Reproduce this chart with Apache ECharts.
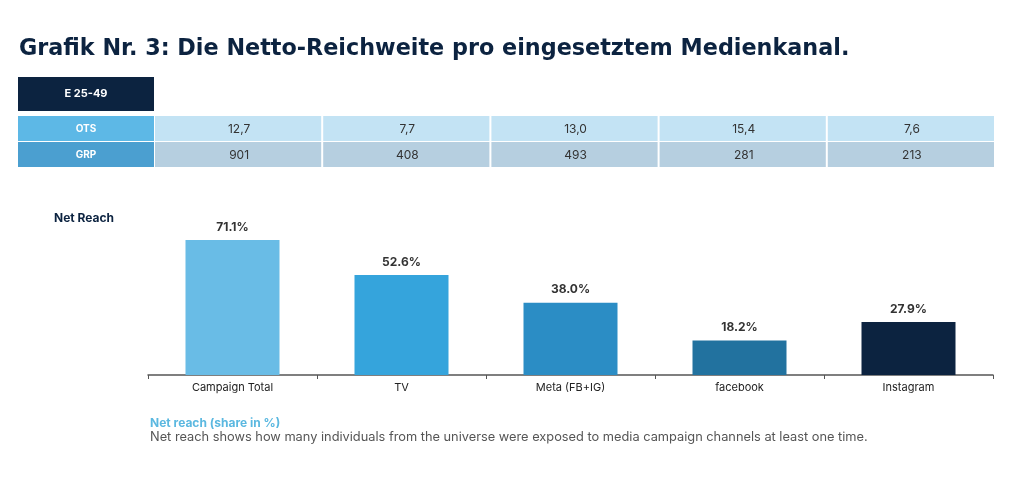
<!DOCTYPE html>
<html><head><meta charset="utf-8">
<script src="https://cdn.jsdelivr.net/npm/echarts@6/dist/echarts.min.js"></script>
<style>html,body{margin:0;padding:0;background:#fff}#c{width:1024px;height:479px}</style>
</head><body><div id="c"></div>
<script>
const titleText = 'Grafik Nr. 3: Die Netto-Reichweite pro eingesetztem Medienkanal.';
const segment = 'E 25-49';
const channels = ['Campaign Total', 'TV', 'Meta (FB+IG)', 'facebook', 'Instagram'];
const netReach = [71.1, 52.6, 38.0, 18.2, 27.9];
const rowLabels = ['OTS', 'GRP'];
const ots = ['12,7', '7,7', '13,0', '15,4', '7,6'];
const grp = ['901', '408', '493', '281', '213'];
const barColors = ['#69bce6', '#35a4dc', '#2b8dc5', '#22729f', '#0c2340'];
const rowColors = ['#c3e3f4', '#b6cfe0'];
const rowLabelColors = ['#5db8e6', '#4b9fd0'];

const tableData = [];
[ots, grp].forEach((row, r) => row.forEach((v, c) => tableData.push([c, r, v])));

const chart = echarts.init(document.getElementById('c'));
const FONT = 'Inter, "Noto Sans", sans-serif';
const TFONT = '"DejaVu Sans", sans-serif';

const rowLabelGraphics = [];
rowLabels.forEach((lab, r) => {
  rowLabelGraphics.push({ type: 'rect', left: 18, top: 116 + r * 26, shape: { width: 136, height: 25 }, style: { fill: rowLabelColors[r] } });
  rowLabelGraphics.push({ type: 'text', x: 86, y: 116 + r * 26 + 12.5, style: { text: lab, fill: '#fff', font: '700 10px ' + FONT, textAlign: 'center', textVerticalAlign: 'middle' } });
});

chart.setOption({
  animation: false,
  textStyle: { fontFamily: FONT },
  title: {
    text: titleText, left: 14, top: 33,
    textStyle: { fontSize: 22.3, fontWeight: 700, color: '#0c2340', fontFamily: TFONT }
  },
  grid: [
    { left: 148, right: 31, top: 185, bottom: 104 },
    { left: 155, right: 28, top: 116, height: 52 }
  ],
  xAxis: [
    { gridIndex: 0, type: 'category', data: channels,
      axisLine: { lineStyle: { color: '#555', width: 1.5 } },
      axisTick: { show: true, length: 4, lineStyle: { color: '#555' } },
      axisLabel: { color: '#222', fontSize: 11, margin: 7 } },
    { gridIndex: 1, type: 'category', data: channels, show: false }
  ],
  yAxis: [
    { gridIndex: 0, type: 'value', min: 0, max: 100, show: false },
    { gridIndex: 1, type: 'category', data: rowLabels, inverse: true, show: false }
  ],
  graphic: [
    { type: 'rect', left: 18, top: 77, shape: { width: 136, height: 34 }, style: { fill: '#0c2340' } },
    { type: 'text', x: 86, y: 94, style: { text: segment, fill: '#fff', font: '700 11px ' + FONT, textAlign: 'center', textVerticalAlign: 'middle' } },
    ...rowLabelGraphics,
    { type: 'text', left: 54, top: 212, style: { text: 'Net Reach', fill: '#0c2340', font: '700 12px ' + FONT } },
    { type: 'text', left: 150, top: 417, style: { text: 'Net reach (share in %)', fill: '#5bb8e0', font: '700 12px ' + FONT } },
    { type: 'text', left: 150, top: 431, style: { text: 'Net reach shows how many individuals from the universe were exposed to media campaign channels at least one time.', fill: '#555', font: '12.8px ' + FONT } }
  ],
  series: [
    { type: 'bar', xAxisIndex: 0, yAxisIndex: 0, barWidth: 94,
      data: netReach.map((v, i) => ({ value: v, itemStyle: { color: barColors[i] } })),
      label: { show: true, position: 'top', distance: 7, color: '#333', fontSize: 12, fontWeight: 700,
        formatter: (p) => p.value.toFixed(1) + '%' } },
    { type: 'custom', xAxisIndex: 1, yAxisIndex: 1, data: tableData,
      renderItem: (params, api) => {
        const c = api.value(0), r = api.value(1);
        const p = api.coord([c, r]);
        const s = api.size([1, 1]);
        const x = p[0] - s[0] / 2, y = p[1] - s[1] / 2;
        return {
          type: 'group', children: [
            { type: 'rect', shape: { x: x, y: y, width: s[0] - 2, height: s[1] - 1 }, style: { fill: rowColors[r] } },
            { type: 'text', style: { text: tableData[params.dataIndex][2], x: x + s[0] / 2, y: y + s[1] / 2, align: 'center', verticalAlign: 'middle', fill: '#333', font: '12px ' + FONT } }
          ]
        };
      } }
  ]
});
</script></body></html>
